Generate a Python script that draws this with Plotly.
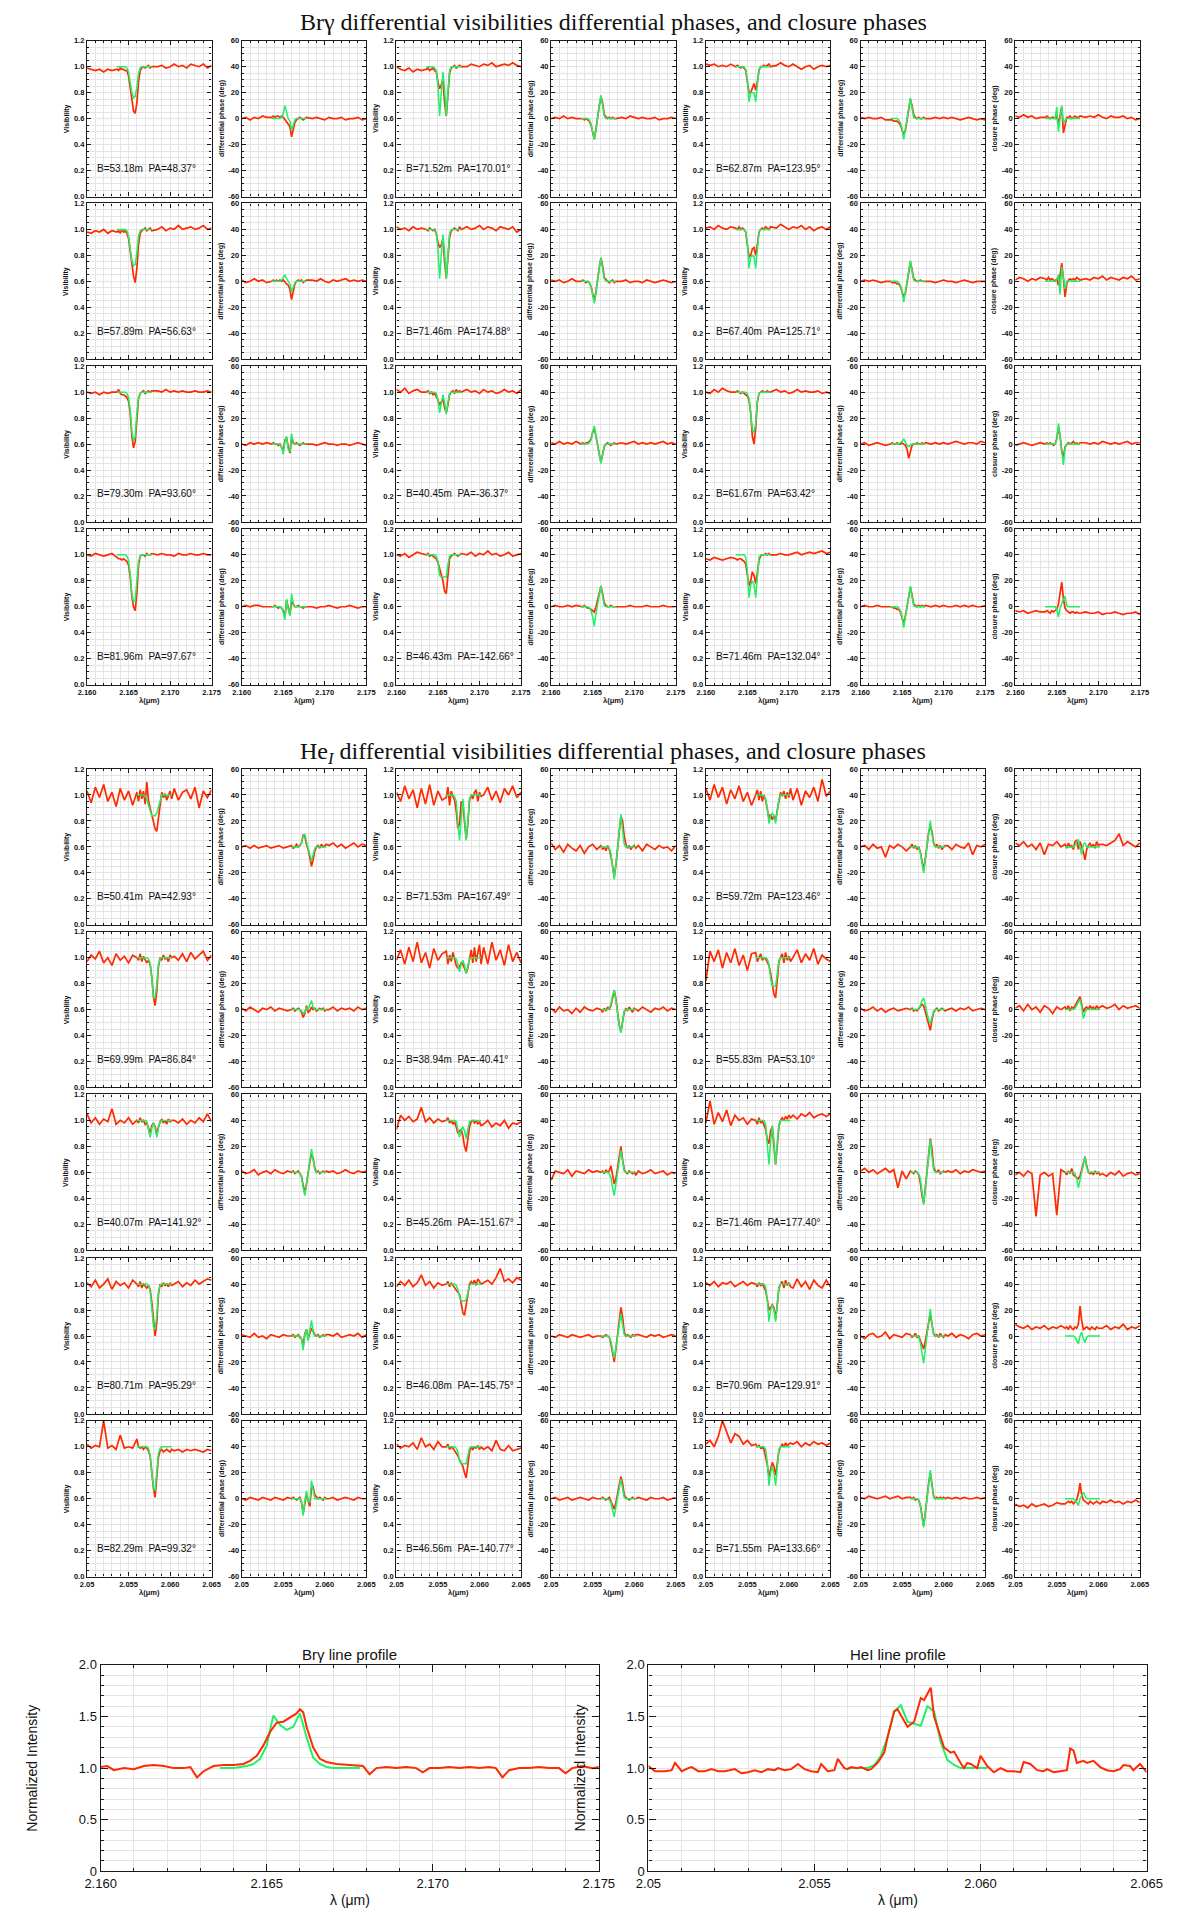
import plotly.graph_objects as go

# ---------------- wavelength grids ----------------
BRG_WL = [2.1600, 2.1605, 2.1610, 2.1615, 2.1620, 2.1625, 2.1630,
          2.1636, 2.1638, 2.1640, 2.1642, 2.1644, 2.1646, 2.1648, 2.1650, 2.1652, 2.1654, 2.1656,
          2.1658, 2.1660, 2.1662, 2.1664, 2.1666, 2.1668, 2.1670, 2.1672, 2.1674, 2.1676, 2.1678,
          2.1685, 2.1690, 2.1695, 2.1700, 2.1705, 2.1710, 2.1715, 2.1720, 2.1725, 2.1730, 2.1735,
          2.1740, 2.1745, 2.1750]
BRG_MWL = [2.1636, 2.1638, 2.1640, 2.1642, 2.1644, 2.1646, 2.1648, 2.1650, 2.1652, 2.1654, 2.1656,
           2.1658, 2.1660, 2.1662, 2.1664, 2.1666, 2.1668, 2.1670, 2.1672, 2.1674, 2.1676, 2.1678]
HEI_WL = [2.0500, 2.0505, 2.0510, 2.0515, 2.0520, 2.0525, 2.0530, 2.0535, 2.0540, 2.0545, 2.0550, 2.0555,
          2.0560, 2.0562, 2.0564, 2.0566, 2.0568, 2.0570, 2.0572, 2.0574, 2.0576, 2.0578, 2.0580,
          2.0582, 2.0584, 2.0586, 2.0588, 2.0590, 2.0592, 2.0594, 2.0596, 2.0598, 2.0600, 2.0602,
          2.0605, 2.0610, 2.0615, 2.0620, 2.0625, 2.0630, 2.0635, 2.0640, 2.0645, 2.0650]
HEI_MWL = [2.0560, 2.0562, 2.0564, 2.0566, 2.0568, 2.0570, 2.0572, 2.0574, 2.0576, 2.0578, 2.0580,
           2.0582, 2.0584, 2.0586, 2.0588, 2.0590, 2.0592, 2.0594, 2.0596, 2.0598, 2.0600, 2.0602]

# ---------------- tick labels ----------------
BRG_XTICKS = [2.160, 2.165, 2.170, 2.175]
BRG_XTEXT = ["2.160", "2.165", "2.170", "2.175"]
HEI_XTICKS = [2.050, 2.055, 2.060, 2.065]
HEI_XTEXT = ["2.05", "2.055", "2.060", "2.065"]
VIS_TICKS = [0.0, 0.2, 0.4, 0.6, 0.8, 1.0, 1.2]
VIS_TEXT = ["0.0", "0.2", "0.4", "0.6", "0.8", "1.0", "1.2"]
PHI_TICKS = [-60, -40, -20, 0, 20, 40, 60]
PHI_TEXT = ["-60", "-40", "-20", "0", "20", "40", "60"]
PROF_YTICKS = [0, 0.5, 1.0, 1.5, 2.0]
PROF_YTEXT = ["0", "0.5", "1.0", "1.5", "2.0"]

# ---------------- baselines ----------------
BRG_B = ["53.18", "71.52", "62.87", "57.89", "71.46", "67.40", "79.30", "40.45", "61.67", "81.96", "46.43", "71.46"]
BRG_PA = ["48.37", "170.01", "123.95", "56.63", "174.88", "125.71", "93.60", "-36.37", "63.42", "97.67", "-142.66", "132.04"]
HEI_B = ["50.41", "71.53", "59.72", "69.99", "38.94", "55.83", "40.07", "45.26", "71.46", "80.71", "46.08", "70.96",
         "82.29", "46.56", "71.55"]
HEI_PA = ["42.93", "167.49", "123.46", "86.84", "-40.41", "53.10", "141.92", "-151.67", "177.40", "95.29", "-145.75",
          "129.91", "99.32", "-140.77", "133.66"]

# ================= Br gamma : observed (red) and model (green) =================
# row 1
BRG_R1_V1 = [0.99, 0.98, 0.97, 0.98, 0.96, 0.98, 0.97,
             0.98, 0.97, 0.99, 0.98, 0.98, 0.97, 0.97, 0.93, 0.84, 0.74, 0.66, 0.64, 0.72, 0.88, 0.97, 0.99, 1.0, 0.99, 1.0, 1.01, 0.99, 1.0,
             1.0, 1.01, 0.99, 1.0, 1.02, 1.0, 1.01, 0.99, 1.02, 1.01, 1.0, 1.02, 0.99, 1.01]
BRG_R1_V1_M = [1.0, 1.0, 1.0, 1.0, 1.0, 1.0, 0.99, 0.96, 0.88, 0.80, 0.76, 0.77, 0.84, 0.95, 0.99, 1.0, 1.0, 1.0, 1.0, 1.0, 1.0, 1.0]
BRG_R1_P1 = [0, 1, -1, 1, 0, 2, 1,
             1, 2, 1, 2, 2, 1, 2, 1, -1, -2, -4, -6, -14, -9, -3, -1, 0, 1, 0, -1, 0, 1,
             0, 1, 0, -1, 1, 0, 0, 1, -1, 0, 0, 1, -1, 0]
BRG_R1_P1_M = [0, 0, 0, 0, 0, 0, 1, 4, 10, 4, 0, -2, -9, -5, -1, 0, 0, 0, 0, 0, 0, 0]
BRG_R1_V2 = [1.0, 0.98, 0.97, 0.99, 0.96, 0.98, 0.97,
             0.98, 0.99, 0.97, 0.98, 0.99, 0.97, 0.96, 0.88, 0.83, 0.86, 0.90, 0.72, 0.62, 0.78, 0.95, 0.99, 1.0, 1.01, 0.99, 1.0, 1.01, 1.0,
             1.0, 1.02, 1.01, 1.0, 1.02, 1.01, 1.03, 1.0, 1.01, 1.02, 1.01, 1.03, 1.01, 1.0]
BRG_R1_V2_M = [1.0, 1.0, 1.0, 1.0, 1.0, 0.99, 0.97, 0.85, 0.62, 0.80, 0.96, 0.82, 0.62, 0.80, 0.97, 1.0, 1.0, 1.0, 1.0, 1.0, 1.0, 1.0]
BRG_R1_P2 = [0, 1, 0, 2, 0, 1, 0,
             0, 0, -1, 0, -1, -2, -5, -10, -16, -8, 2, 10, 17, 12, 3, 1, 0, 1, 0, 1, 0, 0,
             1, 0, 2, 1, 0, 1, 0, 0, 1, -1, 0, 0, 1, 0]
BRG_R1_P2_M = [0, 0, 0, 0, 0, -1, -4, -10, -16, -9, 2, 11, 18, 10, 2, 0, 0, 0, 0, 0, 0, 0]
BRG_R1_V3 = [1.02, 1.01, 1.02, 1.0, 1.01, 1.0, 1.02,
             1.0, 1.01, 1.0, 0.99, 1.0, 0.99, 0.97, 0.88, 0.80, 0.80, 0.84, 0.87, 0.82, 0.88, 0.97, 1.0, 1.0, 1.01, 1.0, 1.01, 1.02, 1.0,
             1.01, 1.03, 1.01, 1.0, 1.02, 1.0, 0.98, 1.0, 1.01, 0.98, 1.0, 1.01, 1.0, 1.01]
BRG_R1_V3_M = [1.0, 1.0, 1.0, 1.0, 1.0, 1.0, 0.98, 0.90, 0.73, 0.80, 0.80, 0.80, 0.73, 0.88, 0.98, 1.0, 1.0, 1.0, 1.0, 1.0, 1.0, 1.0]
BRG_R1_P3 = [1, 0, 1, 0, 0, 1, -1,
             -1, -1, -2, -2, -2, -3, -5, -9, -12, -9, -2, 8, 15, 10, 3, 1, 0, 1, 0, 0, 1, 0,
             0, 1, 0, 1, 0, 1, 0, -1, 0, 1, 0, -1, 0, -1]
BRG_R1_P3_M = [0, 0, 0, 0, 0, -1, -3, -8, -16, -8, 1, 9, 16, 8, 1, 0, 0, 0, 0, 0, 0, 0]
BRG_R1_CP = [2, 1, 3, 1, 2, 0, 1,
             1, 2, 1, 0, 1, 1, 0, 2, -4, 3, 9, -11, -4, 1, 1, 2, 0, 1, 2, 1, 1, 2,
             1, 2, 1, 3, 1, 0, 2, 1, 1, 2, 0, 1, -1, 0]
BRG_R1_CP_M = [0, 0, 0, 0, 0, 0, 0, 9, -10, 0, 10, -3, -1, 0, 0, 0, 0, 0, 0, 0, 0, 0]
# row 2
BRG_R2_V1 = [0.98, 0.97, 0.99, 0.98, 1.0, 0.97, 0.99,
             0.98, 0.99, 0.97, 1.0, 0.98, 0.99, 0.97, 0.93, 0.82, 0.72, 0.64, 0.59, 0.70, 0.88, 0.97, 0.99, 1.0, 1.01, 0.99, 1.0, 1.01, 0.99,
             1.0, 1.02, 0.99, 1.01, 1.0, 1.03, 1.0, 1.01, 1.02, 1.0, 1.01, 1.03, 1.0, 1.01]
BRG_R2_V1_M = [1.0, 1.0, 1.0, 1.0, 1.0, 1.0, 0.99, 0.95, 0.85, 0.76, 0.72, 0.73, 0.82, 0.95, 0.99, 1.0, 1.0, 1.0, 1.0, 1.0, 1.0, 1.0]
BRG_R2_P1 = [1, -1, 0, 2, 0, 1, -1,
             0, 1, 0, 1, 0, 1, 0, 1, -1, -2, -3, -6, -14, -8, -2, 0, 1, 0, 1, -1, 0, 1,
             1, 0, 2, 0, -1, 1, 0, 1, 2, 0, 1, 0, 1, 0]
BRG_R2_P1_M = [0, 0, 0, 0, 0, 0, 1, 3, 5, 2, 0, -2, -8, -4, -1, 0, 0, 0, 0, 0, 0, 0]
BRG_R2_V2 = [1.02, 1.0, 1.01, 0.99, 1.02, 1.0, 1.01,
             1.0, 0.99, 1.01, 1.0, 0.99, 1.0, 0.97, 0.90, 0.86, 0.88, 0.93, 0.75, 0.62, 0.78, 0.94, 0.99, 1.0, 1.01, 1.0, 0.99, 1.02, 1.0,
             1.02, 1.0, 1.01, 1.03, 1.0, 1.02, 1.01, 0.99, 1.02, 1.01, 1.0, 1.02, 0.98, 1.0]
BRG_R2_V2_M = [1.0, 1.0, 1.0, 1.0, 1.0, 0.99, 0.97, 0.85, 0.62, 0.80, 0.96, 0.82, 0.62, 0.80, 0.97, 1.0, 1.0, 1.0, 1.0, 1.0, 1.0, 1.0]
BRG_R2_P2 = [1, 0, 1, -1, 0, 2, 0,
             0, 1, 0, -1, 0, -1, -4, -9, -15, -8, 3, 11, 18, 12, 3, 1, 0, -1, 0, 1, -1, 0,
             0, 1, -1, 0, 0, -1, 1, 0, -1, 0, 1, 0, -1, 0]
BRG_R2_P2_M = [0, 0, 0, 0, 0, -1, -4, -10, -17, -9, 2, 11, 18, 10, 2, 0, 0, 0, 0, 0, 0, 0]
BRG_R2_V3 = [1.01, 1.02, 1.0, 1.03, 1.01, 1.0, 1.02,
             1.01, 1.0, 1.02, 1.0, 1.01, 1.0, 0.98, 0.88, 0.79, 0.80, 0.85, 0.86, 0.80, 0.88, 0.98, 1.0, 1.01, 1.0, 1.02, 1.01, 1.0, 1.02,
             1.01, 1.04, 1.02, 1.0, 1.02, 1.01, 1.03, 1.0, 1.02, 0.99, 1.01, 1.02, 1.0, 1.02]
BRG_R2_V3_M = [1.0, 1.0, 1.0, 1.0, 1.0, 1.0, 0.98, 0.90, 0.70, 0.79, 0.80, 0.79, 0.70, 0.88, 0.98, 1.0, 1.0, 1.0, 1.0, 1.0, 1.0, 1.0]
BRG_R2_P3 = [0, 1, 0, 1, 0, -1, 0,
             0, -1, -1, -1, -2, -2, -4, -8, -12, -9, -1, 8, 15, 9, 2, 1, 0, 0, 1, 0, 0, 0,
             0, -1, 0, 1, 0, 0, -1, 0, 1, 0, -1, 0, 0, 0]
BRG_R2_P3_M = [0, 0, 0, 0, 0, -1, -3, -8, -16, -8, 1, 9, 16, 8, 1, 0, 0, 0, 0, 0, 0, 0]
BRG_R2_CP = [1, 3, 2, 0, 2, 1, 3,
             2, 1, 3, 1, 2, 1, 0, 2, -3, 5, 14, 2, -12, -2, 1, 2, 1, 2, 1, 3, 2, 1,
             2, 1, 3, 2, 4, 1, 3, 2, 1, 3, 2, 4, 1, 2]
BRG_R2_CP_M = [0, 0, 0, 0, 0, 0, 0, 1, 5, -10, 11, 3, -6, 0, 0, 0, 0, 0, 0, 0, 0, 0]
# row 3
BRG_R3_V1 = [1.0, 0.99, 1.0, 0.98, 1.0, 0.99, 1.0,
             1.0, 1.02, 0.99, 0.98, 0.98, 0.97, 0.96, 0.93, 0.84, 0.66, 0.57, 0.62, 0.82, 0.95, 0.99, 1.0, 1.01, 0.99, 1.0, 1.01, 1.0, 1.01,
             1.01, 1.0, 1.02, 1.0, 1.01, 1.0, 1.01, 1.0, 1.0, 1.01, 1.0, 1.0, 1.01, 1.0]
BRG_R3_V1_M = [1.0, 1.0, 1.0, 1.0, 1.0, 1.0, 0.99, 0.96, 0.86, 0.70, 0.62, 0.66, 0.84, 0.96, 0.99, 1.0, 1.0, 1.0, 1.0, 1.0, 1.0, 1.0]
BRG_R3_P1 = [0, -1, 1, 0, 1, 0, 1,
             0, 1, 0, 0, -1, 0, -2, -5, 3, 5, -2, -7, 4, 1, 0, 1, 0, -1, 0, 1, 0, 0,
             0, -1, 0, 1, 0, 0, -1, 0, 0, -1, 0, 1, 0, -1]
BRG_R3_P1_M = [0, 0, 0, 0, 0, 0, -2, -8, 2, 6, -4, -6, 8, 2, 0, 0, 0, 0, 0, 0, 0, 0]
BRG_R3_V2 = [1.02, 1.0, 1.03, 0.99, 1.01, 1.02, 1.0,
             1.0, 1.01, 0.99, 1.0, 0.98, 0.99, 0.97, 0.94, 0.90, 0.93, 0.95, 0.88, 0.84, 0.90, 0.98, 1.0, 1.01, 0.99, 1.02, 1.0, 1.01, 1.0,
             1.02, 1.0, 1.01, 0.99, 1.02, 1.0, 1.01, 0.99, 1.0, 1.02, 1.0, 1.01, 0.99, 1.02]
BRG_R3_V2_M = [1.0, 1.0, 1.0, 1.0, 1.0, 1.0, 0.99, 0.94, 0.84, 0.92, 0.98, 0.92, 0.83, 0.92, 0.99, 1.0, 1.0, 1.0, 1.0, 1.0, 1.0, 1.0]
BRG_R3_P2 = [1, 0, 2, 0, 1, 0, 2,
             0, 1, 0, 1, 1, 2, 4, 9, 12, 6, -2, -8, -14, -9, -2, 0, 1, 0, -1, 0, 1, 0,
             1, 0, 1, 2, 0, 1, 0, 1, 0, 1, 2, 0, 1, 0]
BRG_R3_P2_M = [0, 0, 0, 0, 0, 1, 3, 9, 14, 6, -1, -9, -15, -8, -1, 0, 0, 0, 0, 0, 0, 0]
BRG_R3_V3 = [1.0, 0.99, 1.02, 1.0, 1.03, 1.01, 1.0,
             1.0, 1.01, 1.0, 0.99, 1.0, 0.99, 0.98, 0.97, 0.94, 0.84, 0.66, 0.60, 0.72, 0.92, 0.99, 1.0, 1.01, 1.0, 1.0, 1.01, 1.0, 1.0,
             1.02, 1.0, 1.01, 0.99, 1.0, 1.02, 1.0, 1.01, 1.0, 1.0, 1.01, 0.99, 1.0, 0.99]
BRG_R3_V3_M = [1.0, 1.0, 1.0, 1.0, 1.0, 1.0, 1.0, 0.99, 0.95, 0.84, 0.71, 0.69, 0.76, 0.93, 0.99, 1.0, 1.0, 1.0, 1.0, 1.0, 1.0, 1.0]
BRG_R3_P3 = [0, 1, -1, 0, 1, 0, -1,
             0, 1, 0, 0, 1, 0, 0, 1, 0, -1, -4, -11, -6, -1, 0, 0, 1, 0, 0, 1, 0, 1,
             0, 1, 0, 1, 0, 1, 2, 1, 0, 1, 1, 0, 2, 1]
BRG_R3_P3_M = [0, 0, 0, 0, 0, 0, 1, 2, 4, 1, -1, -2, -1, 0, 0, 0, 0, 0, 0, 0, 0, 0]
BRG_R3_CP = [-1, 0, 1, 0, -1, 0, 1,
             0, 1, 0, 1, 0, -1, 0, 4, 13, 6, -6, -10, -2, 0, 1, 0, 1, 2, 0, 1, 0, 1,
             1, 0, 1, 0, 2, 1, 0, 1, 0, 1, 2, 0, 1, 1]
BRG_R3_CP_M = [0, 0, 0, 0, 0, 0, 0, 3, 16, 6, -8, -16, -3, 0, 0, 0, 0, 0, 0, 0, 0, 0]
# row 4
BRG_R4_V1 = [1.0, 0.99, 1.01, 1.0, 0.99, 1.0, 1.01,
             0.98, 0.97, 0.97, 0.96, 0.97, 0.96, 0.95, 0.92, 0.83, 0.68, 0.60, 0.57, 0.70, 0.92, 0.99, 1.0, 1.0, 0.99, 1.01, 1.0, 1.0, 1.01,
             1.0, 1.01, 1.0, 1.0, 0.99, 1.01, 1.0, 1.0, 1.01, 1.0, 1.0, 1.01, 1.0, 1.0]
BRG_R4_V1_M = [1.0, 1.0, 1.0, 1.0, 1.0, 1.0, 0.99, 0.96, 0.85, 0.70, 0.64, 0.65, 0.80, 0.95, 0.99, 1.0, 1.0, 1.0, 1.0, 1.0, 1.0, 1.0]
BRG_R4_P1 = [0, 1, 0, 1, 1, 0, 0,
             0, 0, 1, 0, -1, 0, -1, -3, -8, 5, -2, -6, 4, 2, 0, 0, 1, 0, 0, -1, 0, 0,
             0, -1, 0, 0, 1, 0, -1, 0, 0, 1, 0, -1, 0, 0]
BRG_R4_P1_M = [0, 0, 0, 0, 0, 0, -1, -4, -10, 6, -2, -7, 10, 3, 0, 0, 0, 0, 0, 0, 0, 0]
BRG_R4_V2 = [1.0, 0.99, 1.01, 0.98, 1.0, 1.02, 1.01,
             1.0, 1.01, 0.99, 1.0, 0.99, 0.98, 0.97, 0.94, 0.89, 0.84, 0.80, 0.72, 0.70, 0.84, 0.97, 0.99, 1.0, 1.01, 1.0, 0.99, 1.0, 1.01,
             1.0, 1.02, 0.99, 1.01, 1.0, 1.03, 1.0, 1.01, 0.99, 1.0, 1.02, 0.99, 1.0, 1.01]
BRG_R4_V2_M = [1.0, 1.0, 1.0, 1.0, 1.0, 1.0, 0.99, 0.95, 0.84, 0.83, 0.83, 0.83, 0.83, 0.92, 0.99, 1.0, 1.0, 1.0, 1.0, 1.0, 1.0, 1.0]
BRG_R4_P2 = [0, 1, 0, 0, 1, 0, 1,
             0, 0, 1, 0, -1, -1, -2, -3, -4, 0, 6, 11, 16, 10, 3, 1, 0, 0, 1, 0, 0, 0,
             0, 0, 1, 0, 0, 0, 1, 0, 0, 0, 1, 0, 0, 0]
BRG_R4_P2_M = [0, 0, 0, 0, 0, -1, -3, -8, -15, -5, 3, 10, 16, 8, 1, 0, 0, 0, 0, 0, 0, 0]
BRG_R4_V3 = [0.97, 0.96, 0.98, 0.97, 0.96, 0.97, 0.98,
             0.97, 0.96, 0.97, 0.97, 0.96, 0.95, 0.93, 0.85, 0.76, 0.80, 0.87, 0.84, 0.78, 0.86, 0.96, 0.99, 1.0, 1.0, 1.01, 1.0, 1.01, 1.0,
             1.0, 1.01, 1.0, 1.0, 1.01, 1.02, 1.0, 1.01, 1.02, 1.01, 1.02, 1.03, 1.01, 1.02]
BRG_R4_V3_M = [1.0, 1.0, 1.0, 1.0, 1.0, 1.0, 0.98, 0.88, 0.67, 0.77, 0.80, 0.77, 0.67, 0.86, 0.98, 1.0, 1.0, 1.0, 1.0, 1.0, 1.0, 1.0]
BRG_R4_P3 = [0, 1, 0, 0, 1, 0, 0,
             0, 0, -1, -1, -2, -2, -4, -8, -13, -7, 0, 8, 15, 9, 2, 1, 0, 1, 0, 1, 0, 1,
             0, 1, 0, 1, 0, 0, 1, 0, 1, 0, 1, 0, 0, 1]
BRG_R4_P3_M = [0, 0, 0, 0, 0, -1, -3, -8, -16, -8, 1, 9, 16, 8, 1, 0, 0, 0, 0, 0, 0, 0]
BRG_R4_CP = [-3, -4, -3, -5, -4, -3, -4,
             -4, -3, -4, -5, -3, -4, -3, -2, 2, 12, 19, 6, -1, -3, -4, -5, -4, -4, -5, -4, -5, -5,
             -4, -5, -5, -4, -6, -5, -5, -4, -5, -6, -5, -5, -4, -6]
BRG_R4_CP_M = [0, 0, 0, 0, 0, 0, 0, -2, -8, -1, 3, 6, 8, 1, 0, 0, 0, 0, 0, 0, 0, 0]

# ================= He I : observed (red) and model (green) =================
# row 1
HEI_R1_V1 = [1.03, 0.94, 1.06, 0.98, 1.08, 0.95, 1.02, 0.91, 1.05, 0.96, 1.03, 0.92,
             1.02, 0.95, 1.04, 0.97, 1.03, 0.93, 1.10, 0.96, 0.90, 0.84, 0.78, 0.74, 0.72, 0.82, 0.95, 1.02, 0.98, 1.01, 0.96, 1.0, 1.03, 0.97,
             1.05, 0.96, 1.02, 1.04, 0.97, 1.06, 0.90, 1.03, 0.98, 1.04]
HEI_R1_V1_M = [1.0, 1.0, 1.0, 1.0, 1.0, 0.99, 0.97, 0.92, 0.87, 0.84, 0.84, 0.84, 0.86, 0.91, 0.97, 1.0, 1.0, 1.0, 1.0, 1.0, 1.0, 1.0]
HEI_R1_P1 = [0, 1, -1, 1, -1, 0, 1, -1, 0, 1, -1, 0,
             1, -1, 0, 2, 0, 1, 3, 9, 8, 2, -2, -8, -15, -10, -3, 0, 1, -1, 2, 0, 1, 2,
             1, 3, 0, 2, -1, 1, 3, 0, 2, 1]
HEI_R1_P1_M = [0, 0, 0, 0, 0, 1, 3, 8, 10, 4, -1, -6, -11, -6, -1, 0, 0, 0, 0, 0, 0, 0]
HEI_R1_V2 = [1.02, 0.95, 1.07, 0.97, 1.04, 0.90, 1.05, 0.93, 1.08, 0.92, 1.03, 0.96,
             0.98, 1.06, 0.92, 1.03, 0.99, 0.96, 0.88, 0.74, 0.78, 0.95, 0.93, 0.80, 0.66, 0.78, 0.96, 1.0, 0.97, 1.02, 1.04, 0.95, 1.02, 0.99,
             1.0, 1.06, 0.96, 1.03, 0.94, 1.05, 1.0, 1.07, 0.98, 1.02]
HEI_R1_V2_M = [1.0, 1.0, 1.0, 1.0, 1.0, 0.99, 0.95, 0.78, 0.65, 0.82, 0.97, 0.83, 0.65, 0.80, 0.97, 1.0, 1.0, 1.0, 1.0, 1.0, 1.0, 1.0]
HEI_R1_P2 = [3, -2, 1, -4, 2, -1, -3, 1, -5, 0, 2, -2,
             1, -2, 0, -3, 1, -2, -7, -17, -23, -14, 0, 12, 24, 20, 8, 2, -1, 1, -2, 0, 1, -1,
             1, -3, 2, 0, -2, 1, -1, 0, -3, 1]
HEI_R1_P2_M = [0, 0, 0, 0, 0, -1, -5, -15, -25, -14, 0, 13, 25, 13, 2, 0, 0, 0, 0, 0, 0, 0]
HEI_R1_V3 = [1.05, 0.96, 1.08, 0.98, 1.06, 0.93, 1.04, 0.97, 1.07, 0.95, 1.02, 0.92,
             1.0, 1.04, 0.96, 1.03, 0.95, 1.0, 0.96, 0.90, 0.82, 0.85, 0.81, 0.84, 0.80, 0.88, 0.97, 1.02, 0.99, 1.03, 0.97, 1.02, 0.98, 1.05,
             0.96, 1.05, 0.92, 1.03, 0.98, 1.06, 0.95, 1.12, 0.99, 1.03]
HEI_R1_V3_M = [1.0, 1.0, 1.0, 1.0, 1.0, 0.99, 0.97, 0.90, 0.78, 0.84, 0.86, 0.84, 0.78, 0.88, 0.97, 1.0, 1.0, 1.0, 1.0, 1.0, 1.0, 1.0]
HEI_R1_P3 = [0, 1, -2, 2, -1, 0, -8, 1, -1, 2, 0, -3,
             0, 2, -1, 1, -2, 0, -4, -12, -18, -9, 2, 11, 16, 12, 3, 0, 2, -1, 1, -2, 0, 1,
             1, -2, 2, 0, -1, 3, -6, 1, 0, 2]
HEI_R1_P3_M = [0, 0, 0, 0, 0, -1, -4, -12, -20, -10, 1, 12, 20, 10, 2, 0, 0, 0, 0, 0, 0, 0]
HEI_R1_CP = [3, 1, 4, 0, 2, -2, 3, -6, 2, 1, 4, 0,
             2, -1, 3, 0, 1, -2, 4, 5, -2, 4, 0, -4, -10, -2, 1, 3, 0, 2, -1, 4, 1, 2,
             2, 1, 3, 5, 10, 1, 4, 2, 0, 3]
HEI_R1_CP_M = [0, 0, 0, 0, 0, 0, 1, 4, 5, -2, -6, 2, 3, 0, 0, 0, 0, 0, 0, 0, 0, 0]
# row 2
HEI_R2_V1 = [0.97, 1.02, 0.99, 1.05, 0.96, 1.0, 0.94, 1.03, 0.98, 1.01, 0.96, 1.02,
             1.0, 0.98, 1.03, 0.97, 1.01, 0.99, 0.96, 0.98, 0.95, 0.85, 0.70, 0.63, 0.74, 0.93, 1.0, 0.98, 1.02, 0.99, 1.0, 0.97, 1.02, 1.0,
             1.01, 0.98, 1.03, 0.97, 1.04, 0.99, 1.02, 1.05, 0.98, 1.02]
HEI_R2_V1_M = [1.0, 1.0, 1.0, 1.0, 1.0, 1.0, 1.0, 0.99, 0.96, 0.84, 0.70, 0.69, 0.79, 0.95, 0.99, 1.0, 1.0, 1.0, 1.0, 1.0, 1.0, 1.0]
HEI_R2_P1 = [1, -1, 2, 0, -2, 1, 0, 2, -1, 1, 0, -1,
             0, 1, -1, 0, 1, 0, -2, -6, -3, 3, -2, -1, 2, 0, 1, -1, 0, 1, 0, 1, -1, 0,
             0, 2, -1, 1, 0, 1, -1, 2, 0, 1]
HEI_R2_P1_M = [0, 0, 0, 0, 0, 0, -1, -3, -2, 2, 0, 3, 7, 2, 0, 0, 0, 0, 0, 0, 0, 0]
HEI_R2_V2 = [0.98, 1.06, 0.95, 1.08, 0.97, 1.12, 0.96, 1.04, 0.92, 1.07, 0.98, 1.03,
             1.05, 0.95, 1.02, 0.97, 1.04, 0.98, 0.94, 0.92, 0.93, 0.96, 0.95, 0.92, 0.88, 0.92, 1.0, 1.06, 0.96, 1.08, 0.97, 1.05, 1.10, 0.95,
             1.08, 0.95, 1.12, 0.98, 1.06, 0.94, 1.10, 0.97, 1.04, 0.96]
HEI_R2_V2_M = [1.0, 1.0, 1.0, 1.0, 1.0, 1.0, 0.99, 0.95, 0.89, 0.95, 0.98, 0.94, 0.88, 0.95, 0.99, 1.0, 1.0, 1.0, 1.0, 1.0, 1.0, 1.0]
HEI_R2_P2 = [1, -2, 2, -1, 0, -3, 1, -2, 2, 0, -1, 1,
             0, -2, 1, -1, 2, 0, 3, 10, 15, 8, -3, -12, -17, -9, -2, 1, -1, 2, 0, -2, 1, 0,
             -1, 2, 0, -2, 1, 0, 2, -1, 1, 0]
HEI_R2_P2_M = [0, 0, 0, 0, 0, 1, 4, 11, 15, 7, -3, -12, -18, -8, -1, 0, 0, 0, 0, 0, 0, 0]
HEI_R2_V3 = [0.82, 1.05, 0.97, 1.06, 0.92, 1.04, 0.96, 1.07, 0.94, 1.02, 0.90, 1.03,
             1.04, 0.97, 1.0, 1.03, 0.98, 1.0, 0.99, 0.97, 0.94, 0.88, 0.78, 0.72, 0.69, 0.82, 0.97, 1.0, 1.03, 0.96, 1.04, 0.98, 1.01, 0.97,
             1.0, 1.06, 0.96, 1.03, 0.98, 1.07, 0.95, 1.02, 0.99, 0.97]
HEI_R2_V3_M = [1.0, 1.0, 1.0, 1.0, 1.0, 1.0, 1.0, 0.99, 0.95, 0.84, 0.78, 0.78, 0.78, 0.88, 0.98, 1.0, 1.0, 1.0, 1.0, 1.0, 1.0, 1.0]
HEI_R2_P3 = [1, -1, 0, 2, -1, 1, -2, 0, 1, -1, 0, 1,
             0, 1, -1, 0, -1, 1, 2, 4, 3, -2, -6, -10, -16, -8, -2, 0, 1, -1, 0, 1, 0, -1,
             0, 1, -1, 1, 0, 2, -1, 0, 1, 0]
HEI_R2_P3_M = [0, 0, 0, 0, 0, 1, 3, 7, 9, 3, -3, -8, -11, -5, -1, 0, 0, 0, 0, 0, 0, 0]
HEI_R2_CP = [1, 3, -1, 4, 0, 2, -2, 3, 1, -3, 2, 0,
             2, 0, 3, -1, 2, 1, 3, 5, 8, 10, 4, -2, 1, 2, 0, 3, 1, 2, 0, 3, 1, 2,
             3, 1, 2, 4, 0, 3, 1, 2, 3, 1]
HEI_R2_CP_M = [0, 0, 0, 0, 0, 0, 1, 3, 6, 8, 2, -7, -2, 0, 0, 0, 0, 0, 0, 0, 0, 0]
# row 3
HEI_R3_V1 = [1.05, 0.98, 1.02, 0.97, 1.01, 0.99, 1.09, 0.97, 1.0, 0.98, 1.02, 0.97,
             1.0, 0.98, 1.02, 0.99, 1.0, 0.97, 0.98, 0.93, 0.90, 0.96, 0.98, 0.95, 0.90, 0.95, 0.99, 1.01, 0.98, 1.0, 0.97, 1.01, 0.99, 1.0,
             1.0, 0.98, 1.01, 0.97, 1.0, 0.98, 1.02, 0.99, 1.05, 0.99]
HEI_R3_V1_M = [1.0, 1.0, 1.0, 1.0, 1.0, 1.0, 0.99, 0.94, 0.87, 0.94, 0.98, 0.94, 0.87, 0.94, 0.99, 1.0, 1.0, 1.0, 1.0, 1.0, 1.0, 1.0]
HEI_R3_P1 = [1, -1, 0, 2, -2, 0, 1, -1, 2, 0, -1, 1,
             0, 1, -1, 0, 1, -1, -3, -10, -16, -9, 2, 8, 14, 11, 3, 0, 1, -1, 0, 1, 0, 1,
             0, 1, -1, 0, 2, 0, -1, 1, 0, 1]
HEI_R3_P1_M = [0, 0, 0, 0, 0, -1, -4, -12, -18, -9, 1, 10, 18, 10, 2, 0, 0, 0, 0, 0, 0, 0]
HEI_R3_V2 = [0.93, 1.04, 1.0, 1.03, 0.99, 1.01, 1.10, 0.99, 1.02, 0.98, 1.01, 0.99,
             1.0, 1.02, 0.98, 1.0, 0.97, 0.99, 0.95, 0.90, 0.92, 0.93, 0.88, 0.80, 0.76, 0.85, 0.95, 0.99, 1.0, 0.98, 1.0, 0.97, 0.99, 0.96,
             0.97, 1.0, 0.95, 0.98, 0.96, 1.0, 0.94, 0.98, 0.97, 0.99]
HEI_R3_V2_M = [1.0, 1.0, 1.0, 1.0, 1.0, 1.0, 0.99, 0.94, 0.87, 0.93, 0.95, 0.92, 0.86, 0.93, 0.99, 1.0, 1.0, 1.0, 1.0, 1.0, 1.0, 1.0]
HEI_R3_P2 = [-6, 1, 0, -1, 2, -3, 1, 0, -1, 2, 0, 1,
             0, 1, -1, 2, 0, 1, 5, -2, -9, -5, 3, 12, 20, 10, 2, 0, -1, 1, 0, -1, 0, -2,
             1, -1, 0, 2, -1, 0, 1, -2, 0, -1]
HEI_R3_P2_M = [0, 0, 0, 0, 0, -1, -4, -12, -18, -9, 1, 10, 17, 9, 1, 0, 0, 0, 0, 0, 0, 0]
HEI_R3_V3 = [0.98, 1.15, 0.97, 1.06, 0.99, 1.08, 0.96, 1.04, 1.0, 1.02, 0.97, 1.01,
             1.0, 0.97, 1.02, 0.98, 1.0, 0.97, 0.93, 0.85, 0.82, 0.92, 0.95, 0.80, 0.66, 0.80, 0.96, 1.0, 1.02, 1.0, 1.03, 1.01, 1.04, 1.02,
             1.04, 1.01, 1.05, 1.03, 1.06, 1.02, 1.04, 1.05, 1.03, 1.05]
HEI_R3_V3_M = [1.0, 1.0, 1.0, 1.0, 1.0, 1.0, 0.97, 0.82, 0.66, 0.84, 0.96, 0.84, 0.66, 0.82, 0.97, 1.0, 1.0, 1.0, 1.0, 1.0, 1.0, 1.0]
HEI_R3_P3 = [1, 3, 0, 2, -1, 1, 3, 0, 2, -12, 1, -5,
             1, 0, -1, 1, 0, -2, -8, -18, -24, -12, 2, 14, 26, 18, 4, 1, 0, 2, -1, 0, 1, 0,
             1, 0, 2, -1, 1, 0, 2, 1, 0, 1]
HEI_R3_P3_M = [0, 0, 0, 0, 0, -1, -5, -15, -25, -13, 1, 14, 25, 13, 2, 0, 0, 0, 0, 0, 0, 0]
HEI_R3_CP = [-2, 0, -3, 1, -1, -34, -2, 0, -3, -1, -33, 2,
             0, -2, 1, -1, 3, -2, -3, -4, -5, -3, 2, 8, 12, 5, 0, -1, 0, -2, 1, -1, 0, -2,
             -1, -3, 0, -2, 1, -3, -1, 0, -2, -1]
HEI_R3_CP_M = [0, 0, 0, 0, 0, 0, -1, -5, -12, -6, 1, 6, 12, 4, 0, 0, 0, 0, 0, 0, 0, 0]
# row 4
HEI_R4_V1 = [1.01, 0.98, 1.03, 0.97, 1.0, 1.04, 0.96, 1.02, 0.99, 1.01, 0.97, 1.03,
             1.0, 0.98, 1.02, 0.97, 1.0, 0.98, 0.97, 0.99, 0.96, 0.86, 0.74, 0.60, 0.70, 0.92, 1.0, 0.98, 1.01, 0.99, 1.0, 0.98, 1.01, 0.99,
             1.0, 1.02, 0.98, 1.01, 0.99, 1.03, 1.0, 1.02, 1.04, 1.03]
HEI_R4_V1_M = [1.0, 1.0, 1.0, 1.0, 1.0, 1.0, 1.0, 0.99, 0.95, 0.82, 0.67, 0.65, 0.76, 0.94, 0.99, 1.0, 1.0, 1.0, 1.0, 1.0, 1.0, 1.0]
HEI_R4_P1 = [1, 0, -1, 2, -1, 0, -2, 1, 0, -1, 1, 0,
             0, 1, -1, 0, 1, -1, -2, -8, 2, 5, -2, 2, 6, 4, 1, 0, 1, -1, 0, 1, 0, 1,
             1, 0, 2, -1, 0, 1, 0, 2, -1, 1]
HEI_R4_P1_M = [0, 0, 0, 0, 0, 0, -2, -11, 1, 5, -4, 5, 12, 3, 0, 0, 0, 0, 0, 0, 0, 0]
HEI_R4_V2 = [0.98, 1.02, 0.99, 1.03, 0.98, 1.01, 1.07, 0.99, 1.02, 0.97, 1.01, 0.99,
             1.0, 1.02, 0.98, 1.01, 0.99, 0.97, 0.96, 0.93, 0.92, 0.85, 0.78, 0.76, 0.84, 0.95, 1.0, 1.02, 1.0, 1.03, 0.99, 1.04, 1.02, 1.0,
             1.01, 1.03, 1.0, 1.05, 1.12, 1.02, 1.04, 1.01, 1.05, 1.03]
HEI_R4_V2_M = [1.0, 1.0, 1.0, 1.0, 1.0, 1.0, 0.99, 0.96, 0.90, 0.87, 0.87, 0.87, 0.88, 0.95, 0.99, 1.0, 1.0, 1.0, 1.0, 1.0, 1.0, 1.0]
HEI_R4_P2 = [0, -1, 1, 0, -1, 1, 0, -1, 0, 1, -1, 0,
             0, -1, 0, 1, 0, -1, -6, -14, -20, -10, 2, 12, 22, 15, 3, 0, 1, 0, -1, 1, 0, 1,
             1, 0, -1, 1, 0, 1, -1, 0, 1, 0]
HEI_R4_P2_M = [0, 0, 0, 0, 0, -1, -4, -11, -17, -9, 1, 10, 17, 9, 1, 0, 0, 0, 0, 0, 0, 0]
HEI_R4_V3 = [1.01, 0.99, 1.02, 0.98, 1.01, 1.0, 1.02, 0.98, 1.0, 1.02, 0.99, 1.01,
             1.0, 0.98, 1.01, 0.99, 1.0, 0.97, 0.95, 0.88, 0.80, 0.82, 0.84, 0.82, 0.73, 0.84, 0.97, 1.0, 1.02, 0.97, 1.03, 0.99, 1.01, 0.98,
             0.97, 1.04, 0.98, 1.02, 0.96, 1.03, 0.99, 0.97, 1.03, 0.98]
HEI_R4_V3_M = [1.0, 1.0, 1.0, 1.0, 1.0, 1.0, 0.98, 0.88, 0.71, 0.80, 0.84, 0.80, 0.71, 0.86, 0.98, 1.0, 1.0, 1.0, 1.0, 1.0, 1.0, 1.0]
HEI_R4_P3 = [0, -2, 1, 2, -1, 0, 3, -2, 1, 0, -1, 2,
             1, -1, 0, 2, -1, 0, -3, -7, -10, -4, 3, 10, 17, 9, 2, 0, 1, -1, 2, 0, -1, 1,
             0, 2, -1, 1, 0, -2, 1, 2, 0, 1]
HEI_R4_P3_M = [0, 0, 0, 0, 0, -1, -5, -13, -21, -10, 1, 12, 21, 10, 1, 0, 0, 0, 0, 0, 0, 0]
HEI_R4_CP = [9, 7, 6, 8, 5, 7, 6, 8, 5, 7, 6, 8,
             6, 7, 5, 8, 6, 5, 7, 6, 9, 23, 12, 5, 6, 7, 6, 5, 7, 6, 5, 7, 6, 6,
             6, 8, 5, 7, 6, 9, 5, 7, 6, 8]
HEI_R4_CP_M = [0, 0, 0, 0, 0, 0, -1, -4, -6, 0, 3, -2, -5, -1, 0, 0, 0, 0, 0, 0, 0, 0]
# row 5
HEI_R5_V1 = [1.02, 0.99, 1.01, 1.0, 1.20, 0.99, 1.01, 0.98, 1.09, 0.99, 1.0, 0.99,
             1.06, 1.0, 0.99, 1.0, 0.98, 1.0, 0.99, 0.97, 0.93, 0.80, 0.68, 0.61, 0.75, 0.92, 0.97, 0.98, 0.96, 0.97, 0.98, 0.97, 0.96, 0.98,
             0.97, 0.98, 0.96, 0.98, 0.97, 0.98, 0.97, 0.96, 0.98, 0.97]
HEI_R5_V1_M = [1.0, 1.0, 1.0, 1.0, 1.0, 1.0, 1.0, 0.99, 0.93, 0.80, 0.68, 0.66, 0.78, 0.95, 0.99, 1.0, 1.0, 1.0, 1.0, 1.0, 1.0, 1.0]
HEI_R5_P1 = [0, -1, 1, 0, -1, 1, 0, -1, 1, 0, -1, 1,
             0, 1, 0, -1, 0, 1, -3, -11, -4, 4, -2, -6, 8, 9, 3, 1, 0, 1, 0, -1, 1, 0,
             0, 1, -1, 0, 1, 0, -1, 1, 0, 0]
HEI_R5_P1_M = [0, 0, 0, 0, 0, 0, -2, -13, -2, 6, -2, -3, 14, 5, 0, 0, 0, 0, 0, 0, 0, 0]
HEI_R5_V2 = [1.02, 0.99, 1.01, 1.0, 1.03, 0.98, 1.07, 1.0, 1.02, 0.98, 1.04, 1.0,
             1.0, 1.02, 0.98, 1.0, 0.99, 0.97, 0.96, 0.93, 0.90, 0.88, 0.85, 0.80, 0.76, 0.86, 0.96, 1.0, 0.98, 1.0, 0.99, 1.01, 0.98, 1.0,
             0.98, 1.0, 0.97, 1.05, 0.98, 0.97, 1.01, 0.97, 0.98, 0.99]
HEI_R5_V2_M = [1.0, 1.0, 1.0, 1.0, 1.0, 1.0, 0.99, 0.96, 0.89, 0.87, 0.87, 0.87, 0.87, 0.93, 0.99, 1.0, 1.0, 1.0, 1.0, 1.0, 1.0, 1.0]
HEI_R5_P2 = [0, 1, -1, 0, 1, -1, 0, 1, 0, -1, 1, 0,
             0, 1, 0, -1, 0, 1, -2, -5, -8, -3, 4, 10, 17, 12, 3, 1, 0, -1, 0, 1, 0, 0,
             1, 0, -1, 1, 0, 0, 1, -1, 0, 1]
HEI_R5_P2_M = [0, 0, 0, 0, 0, -1, -3, -9, -14, -6, 2, 9, 15, 8, 1, 0, 0, 0, 0, 0, 0, 0]
HEI_R5_V3 = [1.02, 1.05, 1.0, 1.08, 1.20, 1.12, 1.03, 1.10, 1.08, 1.02, 1.05, 1.01,
             1.02, 1.0, 1.01, 0.99, 1.0, 0.98, 0.93, 0.86, 0.77, 0.83, 0.88, 0.85, 0.78, 0.87, 0.97, 1.0, 1.02, 1.0, 1.03, 1.01, 1.02, 1.03,
             1.02, 1.04, 1.0, 1.03, 1.01, 1.04, 1.02, 1.03, 1.01, 1.03]
HEI_R5_V3_M = [1.0, 1.0, 1.0, 1.0, 1.0, 1.0, 0.98, 0.88, 0.70, 0.80, 0.85, 0.80, 0.70, 0.86, 0.98, 1.0, 1.0, 1.0, 1.0, 1.0, 1.0, 1.0]
HEI_R5_P3 = [1, 0, 2, 1, 0, 1, 2, 0, 1, 2, 0, 1,
             1, 0, 1, -1, 0, -1, -5, -14, -21, -11, 2, 12, 20, 10, 2, 0, 1, 0, 1, 0, 1, 0,
             1, 0, 1, 0, 1, 0, 0, 1, 0, 1]
HEI_R5_P3_M = [0, 0, 0, 0, 0, -1, -5, -14, -22, -11, 1, 12, 22, 11, 1, 0, 0, 0, 0, 0, 0, 0]
HEI_R5_CP = [-4, -6, -5, -7, -4, -6, -5, -4, -6, -5, -3, -4,
             -4, -3, -2, -3, -2, -4, -2, -1, 4, 12, 3, -1, -2, -3, -4, -2, -3, -4, -3, -2, -3, -4,
             -2, -3, -1, -3, -2, -4, -2, -3, -1, -3]
HEI_R5_CP_M = [0, 0, 0, 0, 0, 0, -1, -3, -5, 0, 3, 5, 2, 0, 0, 0, 0, 0, 0, 0, 0, 0]

# ================= line profiles =================
BRG_PROF_WL = [2.1600, 2.1602, 2.1604, 2.1607, 2.1610, 2.1613, 2.1616, 2.1619, 2.1622, 2.1625,
               2.1627, 2.1629, 2.1631, 2.1634, 2.1637, 2.1640, 2.1643, 2.1645, 2.1647, 2.1649,
               2.1651, 2.1653, 2.1655, 2.1657, 2.1659, 2.1660, 2.1661, 2.1662, 2.1664, 2.1666,
               2.1668, 2.1671, 2.1674, 2.1677, 2.1679, 2.1681, 2.1683, 2.1686, 2.1689, 2.1692,
               2.1695, 2.1697, 2.1699, 2.1702, 2.1705, 2.1708, 2.1711, 2.1714, 2.1717, 2.1719,
               2.1721, 2.1723, 2.1726, 2.1729, 2.1732, 2.1735, 2.1738, 2.1740, 2.1742, 2.1745,
               2.1748, 2.1750]
BRG_PROF = [1.01, 1.02, 0.98, 1.00, 0.99, 1.02, 1.03, 1.02, 1.00, 1.00,
            1.01, 0.91, 0.97, 1.02, 1.03, 1.03, 1.04, 1.07, 1.12, 1.22,
            1.35, 1.44, 1.45, 1.49, 1.53, 1.57, 1.54, 1.40, 1.20, 1.09,
            1.06, 1.04, 1.03, 1.02, 1.02, 0.94, 1.00, 1.01, 1.00, 1.01,
            1.00, 0.96, 1.00, 1.00, 1.01, 1.00, 1.01, 1.00, 1.01, 1.00,
            0.91, 0.98, 1.00, 1.00, 1.01, 1.00, 1.00, 0.95, 1.00, 1.02,
            1.00, 1.01]
BRG_PROF_M = [1.0, 1.0, 1.0, 1.01, 1.02, 1.04, 1.09, 1.22, 1.51, 1.42, 1.37,
              1.40, 1.53, 1.30, 1.10, 1.04, 1.01, 1.0, 1.0, 1.0, 1.0, 1.0]
HEI_PROF_WL = [2.0500, 2.0502, 2.0505, 2.0507, 2.0508, 2.0510, 2.0512, 2.0513, 2.0515, 2.0517,
               2.0519, 2.0521, 2.0523, 2.0526, 2.0528, 2.0530, 2.0532, 2.0534, 2.0536, 2.0538,
               2.0539, 2.0541, 2.0543, 2.0545, 2.0547, 2.0549, 2.0551, 2.0552, 2.0554, 2.0556,
               2.0557, 2.0559, 2.0560, 2.0561, 2.0563, 2.0564, 2.0566, 2.0567, 2.0569, 2.0571,
               2.0572, 2.0574, 2.0575, 2.0577, 2.0578, 2.0580, 2.0582, 2.0583, 2.0585, 2.0586,
               2.0588, 2.0589, 2.0591, 2.0592, 2.0594, 2.0595, 2.0596, 2.0597, 2.0599, 2.0600,
               2.0602, 2.0604, 2.0606, 2.0608, 2.0610, 2.0612, 2.0613, 2.0615, 2.0617, 2.0619,
               2.0620, 2.0622, 2.0624, 2.0626, 2.0627, 2.0628, 2.0629, 2.0631, 2.0632, 2.0634,
               2.0636, 2.0638, 2.0640, 2.0642, 2.0643, 2.0645, 2.0646, 2.0648, 2.0650]
HEI_PROF = [1.02, 0.97, 0.97, 0.98, 1.05, 0.97, 1.00, 1.01, 0.97, 0.97,
            0.99, 0.97, 0.97, 0.99, 0.95, 0.96, 0.98, 0.96, 0.99, 0.98,
            1.00, 0.98, 0.99, 1.04, 0.99, 0.97, 0.96, 1.04, 0.97, 0.98,
            1.09, 1.00, 0.99, 1.01, 1.00, 1.01, 0.98, 0.99, 1.05, 1.15,
            1.30, 1.55, 1.57, 1.45, 1.40, 1.45, 1.68, 1.66, 1.78, 1.50,
            1.30, 1.20, 1.15, 1.16, 1.05, 1.00, 1.05, 1.04, 1.00, 1.12,
            1.02, 0.96, 1.00, 0.97, 0.97, 0.96, 1.06, 1.04, 0.98, 0.97,
            0.99, 0.96, 0.97, 0.98, 1.19, 1.17, 1.05, 1.07, 1.05, 1.07,
            1.01, 0.98, 0.97, 0.99, 1.03, 1.02, 0.98, 1.04, 0.96]
HEI_PROF_M = [1.0, 1.0, 1.0, 1.0, 1.03, 1.12, 1.30, 1.55, 1.61, 1.45, 1.43,
              1.41, 1.60, 1.55, 1.25, 1.08, 1.03, 1.0, 1.0, 1.0, 1.0, 1.0]

# ================= assemble =================
BRG_ROWS = [
    [(BRG_R1_V1, BRG_R1_V1_M), (BRG_R1_P1, BRG_R1_P1_M), (BRG_R1_V2, BRG_R1_V2_M), (BRG_R1_P2, BRG_R1_P2_M),
     (BRG_R1_V3, BRG_R1_V3_M), (BRG_R1_P3, BRG_R1_P3_M), (BRG_R1_CP, BRG_R1_CP_M)],
    [(BRG_R2_V1, BRG_R2_V1_M), (BRG_R2_P1, BRG_R2_P1_M), (BRG_R2_V2, BRG_R2_V2_M), (BRG_R2_P2, BRG_R2_P2_M),
     (BRG_R2_V3, BRG_R2_V3_M), (BRG_R2_P3, BRG_R2_P3_M), (BRG_R2_CP, BRG_R2_CP_M)],
    [(BRG_R3_V1, BRG_R3_V1_M), (BRG_R3_P1, BRG_R3_P1_M), (BRG_R3_V2, BRG_R3_V2_M), (BRG_R3_P2, BRG_R3_P2_M),
     (BRG_R3_V3, BRG_R3_V3_M), (BRG_R3_P3, BRG_R3_P3_M), (BRG_R3_CP, BRG_R3_CP_M)],
    [(BRG_R4_V1, BRG_R4_V1_M), (BRG_R4_P1, BRG_R4_P1_M), (BRG_R4_V2, BRG_R4_V2_M), (BRG_R4_P2, BRG_R4_P2_M),
     (BRG_R4_V3, BRG_R4_V3_M), (BRG_R4_P3, BRG_R4_P3_M), (BRG_R4_CP, BRG_R4_CP_M)],
]
HEI_ROWS = [
    [(HEI_R1_V1, HEI_R1_V1_M), (HEI_R1_P1, HEI_R1_P1_M), (HEI_R1_V2, HEI_R1_V2_M), (HEI_R1_P2, HEI_R1_P2_M),
     (HEI_R1_V3, HEI_R1_V3_M), (HEI_R1_P3, HEI_R1_P3_M), (HEI_R1_CP, HEI_R1_CP_M)],
    [(HEI_R2_V1, HEI_R2_V1_M), (HEI_R2_P1, HEI_R2_P1_M), (HEI_R2_V2, HEI_R2_V2_M), (HEI_R2_P2, HEI_R2_P2_M),
     (HEI_R2_V3, HEI_R2_V3_M), (HEI_R2_P3, HEI_R2_P3_M), (HEI_R2_CP, HEI_R2_CP_M)],
    [(HEI_R3_V1, HEI_R3_V1_M), (HEI_R3_P1, HEI_R3_P1_M), (HEI_R3_V2, HEI_R3_V2_M), (HEI_R3_P2, HEI_R3_P2_M),
     (HEI_R3_V3, HEI_R3_V3_M), (HEI_R3_P3, HEI_R3_P3_M), (HEI_R3_CP, HEI_R3_CP_M)],
    [(HEI_R4_V1, HEI_R4_V1_M), (HEI_R4_P1, HEI_R4_P1_M), (HEI_R4_V2, HEI_R4_V2_M), (HEI_R4_P2, HEI_R4_P2_M),
     (HEI_R4_V3, HEI_R4_V3_M), (HEI_R4_P3, HEI_R4_P3_M), (HEI_R4_CP, HEI_R4_CP_M)],
    [(HEI_R5_V1, HEI_R5_V1_M), (HEI_R5_P1, HEI_R5_P1_M), (HEI_R5_V2, HEI_R5_V2_M), (HEI_R5_P2, HEI_R5_P2_M),
     (HEI_R5_V3, HEI_R5_V3_M), (HEI_R5_P3, HEI_R5_P3_M), (HEI_R5_CP, HEI_R5_CP_M)],
]

# ================= styling / layout =================
W, H = 1185, 1917
RED = '#ff2a00'
GREEN = '#1ff064'
AXC = '#1a1a1a'
GRIDC = '#e4e4e4'
SANS = 'Liberation Sans'
SERIF = 'Liberation Serif'

COL_X = [73, 232, 391, 550, 709, 868, 1027]
PW, PH = 128, 157
BRG_ROW_Y = [34, 198, 362, 526]
HEI_ROW_Y = [768, 932, 1096, 1261, 1425]

fig = go.Figure()
layout = dict(width=W, height=H, margin=dict(l=0, r=0, t=0, b=0),
              paper_bgcolor='white', plot_bgcolor='white', showlegend=False,
              font=dict(family=SANS, color='#111111'))
annotations = []
counter = [0]


def xdom(x0, w):
    return [x0 / W, (x0 + w) / W]


def ydom(y0, h):
    return [1 - (y0 + h) / H, 1 - y0 / H]


def axis(dom, rng, tickvals, ticktext, m0, mdt, show_labels, fsize, bold, tlen):
    a = dict(domain=dom, range=rng, tickmode='array', tickvals=tickvals, ticktext=ticktext,
             showticklabels=show_labels, showline=True, linecolor=AXC, linewidth=1.3,
             mirror='ticks', ticks='inside', ticklen=tlen, tickwidth=1, tickcolor=AXC,
             showgrid=True, gridcolor=GRIDC, gridwidth=1, zeroline=False, fixedrange=True,
             tickfont=dict(family=SANS, size=fsize, color='#111111', weight='bold' if bold else 'normal'),
             minor=dict(tickmode='linear', tick0=m0, dtick=mdt, ticks='inside', ticklen=max(2, tlen // 2),
                        tickwidth=1, tickcolor=AXC, showgrid=True, gridcolor=GRIDC, gridwidth=1))
    return a


def add_panel(x0, y0, w, h, xspec, yspec, series):
    counter[0] += 1
    n = counter[0]
    sfx = '' if n == 1 else str(n)
    layout['xaxis' + sfx] = dict(axis(xdom(x0, w), **xspec), anchor='y' + sfx)
    layout['yaxis' + sfx] = dict(axis(ydom(y0, h), **yspec), anchor='x' + sfx)
    for xs, ys, col, lw in series:
        fig.add_trace(go.Scatter(x=xs, y=ys, mode='lines', line=dict(color=col, width=lw),
                                 xaxis='x' + sfx, yaxis='y' + sfx, hoverinfo='skip'))


def small_section(rows, row_y, wl, mwl, xticks, xtext, x0tick, bvals, pavals):
    nrows = len(rows)
    for r, row in enumerate(rows):
        y0 = row_y[r]
        last = (r == nrows - 1)
        for c, (obs, mod) in enumerate(row):
            x0 = COL_X[c]
            is_vis = c in (0, 2, 4)
            xspec = dict(rng=[xticks[0], xticks[-1]], tickvals=xticks, ticktext=xtext, m0=x0tick, mdt=0.001,
                         show_labels=last, fsize=7.5, bold=True, tlen=4)
            if is_vis:
                yspec = dict(rng=[0, 1.2], tickvals=VIS_TICKS, ticktext=VIS_TEXT, m0=0, mdt=0.05,
                             show_labels=True, fsize=7.5, bold=True, tlen=4)
            else:
                yspec = dict(rng=[-60, 60], tickvals=PHI_TICKS, ticktext=PHI_TEXT, m0=0, mdt=5,
                             show_labels=True, fsize=7.5, bold=True, tlen=4)
            add_panel(x0, y0, PW, PH, xspec, yspec, [(wl, obs, RED, 1.7), (mwl, mod, GREEN, 1.5)])
            ylab = 'Visibility' if is_vis else ('closure phase (deg)' if c == 6 else 'differential phase (deg)')
            annotations.append(dict(text=ylab, x=(x0 - 21) / W, y=1 - (y0 + PH / 2) / H, xref='paper',
                                    yref='paper', showarrow=False, textangle=-90, xanchor='center',
                                    yanchor='middle', font=dict(family=SANS, size=7, color='#111111',
                                                                weight='bold')))
            if is_vis:
                k = r * 3 + c // 2
                annotations.append(dict(text=f"B={bvals[k]}m\u00a0\u00a0PA={pavals[k]}\u00b0",
                                        x=(x0 + 8) / W, y=1 - (y0 + PH * 0.82) / H, xref='paper',
                                        yref='paper', showarrow=False, xanchor='left', yanchor='middle',
                                        font=dict(family=SANS, size=10, color='#111111')))
            if last:
                annotations.append(dict(text='\u03bb(\u03bcm)', x=(x0 + PW / 2) / W, y=1 - (y0 + PH + 16) / H,
                                        xref='paper', yref='paper', showarrow=False, xanchor='center',
                                        yanchor='middle', font=dict(family=SANS, size=7.5, color='#111111',
                                                                    weight='bold')))


small_section(BRG_ROWS, BRG_ROW_Y, BRG_WL, BRG_MWL, BRG_XTICKS, BRG_XTEXT, 2.160, BRG_B, BRG_PA)
small_section(HEI_ROWS, HEI_ROW_Y, HEI_WL, HEI_MWL, HEI_XTICKS, HEI_XTEXT, 2.050, HEI_B, HEI_PA)

# section titles
annotations.append(dict(text='Br\u03b3 differential visibilities differential phases, and closure phases',
                        x=614 / W, y=1 - 15 / H, xref='paper', yref='paper', showarrow=False,
                        xanchor='center', yanchor='middle', font=dict(family=SERIF, size=24, color='#111111')))
annotations.append(dict(text='He<sub><i>I</i></sub> differential visibilities differential phases, and closure phases',
                        x=614 / W, y=1 - 752 / H, xref='paper', yref='paper', showarrow=False,
                        xanchor='center', yanchor='middle', font=dict(family=SERIF, size=24, color='#111111')))

# line profile panels
PROF_Y0, PROF_H, PROF_W = 1671, 208, 512
for x0, wl, prof, mwl, mprof, xticks, xtext, t0, title in [
        (87, BRG_PROF_WL, BRG_PROF, BRG_MWL, BRG_PROF_M, BRG_XTICKS, BRG_XTEXT, 2.160, 'Br\u03b3 line profile'),
        (650, HEI_PROF_WL, HEI_PROF, HEI_MWL, HEI_PROF_M, HEI_XTICKS, HEI_XTEXT, 2.050, 'HeI line profile')]:
    xspec = dict(rng=[xticks[0], xticks[-1]], tickvals=xticks, ticktext=xtext, m0=t0, mdt=0.001,
                 show_labels=True, fsize=13, bold=False, tlen=7)
    yspec = dict(rng=[0, 2.0], tickvals=PROF_YTICKS, ticktext=PROF_YTEXT, m0=0, mdt=0.1,
                 show_labels=True, fsize=13, bold=False, tlen=7)
    add_panel(x0, PROF_Y0, PROF_W, PROF_H, xspec, yspec, [(mwl, mprof, GREEN, 2), (wl, prof, RED, 2)])
    annotations.append(dict(text=title, x=(x0 + PROF_W / 2) / W, y=1 - 1660 / H, xref='paper', yref='paper',
                            showarrow=False, xanchor='center', yanchor='middle',
                            font=dict(family=SANS, size=15, color='#111111')))
    annotations.append(dict(text='Normalized Intensity', x=(x0 - 70) / W, y=1 - (PROF_Y0 + PROF_H / 2) / H,
                            xref='paper', yref='paper', showarrow=False, textangle=-90, xanchor='center',
                            yanchor='middle', font=dict(family=SANS, size=14, color='#111111')))
    annotations.append(dict(text='\u03bb (\u03bcm)', x=(x0 + PROF_W / 2) / W, y=1 - 1908 / H, xref='paper',
                            yref='paper', showarrow=False, xanchor='center', yanchor='middle',
                            font=dict(family=SANS, size=14, color='#111111')))

layout['annotations'] = annotations
fig.update_layout(**layout)
fig.write_html('out.html', config={'displayModeBar': False},
               post_script="document.body.style.margin='0px';")
